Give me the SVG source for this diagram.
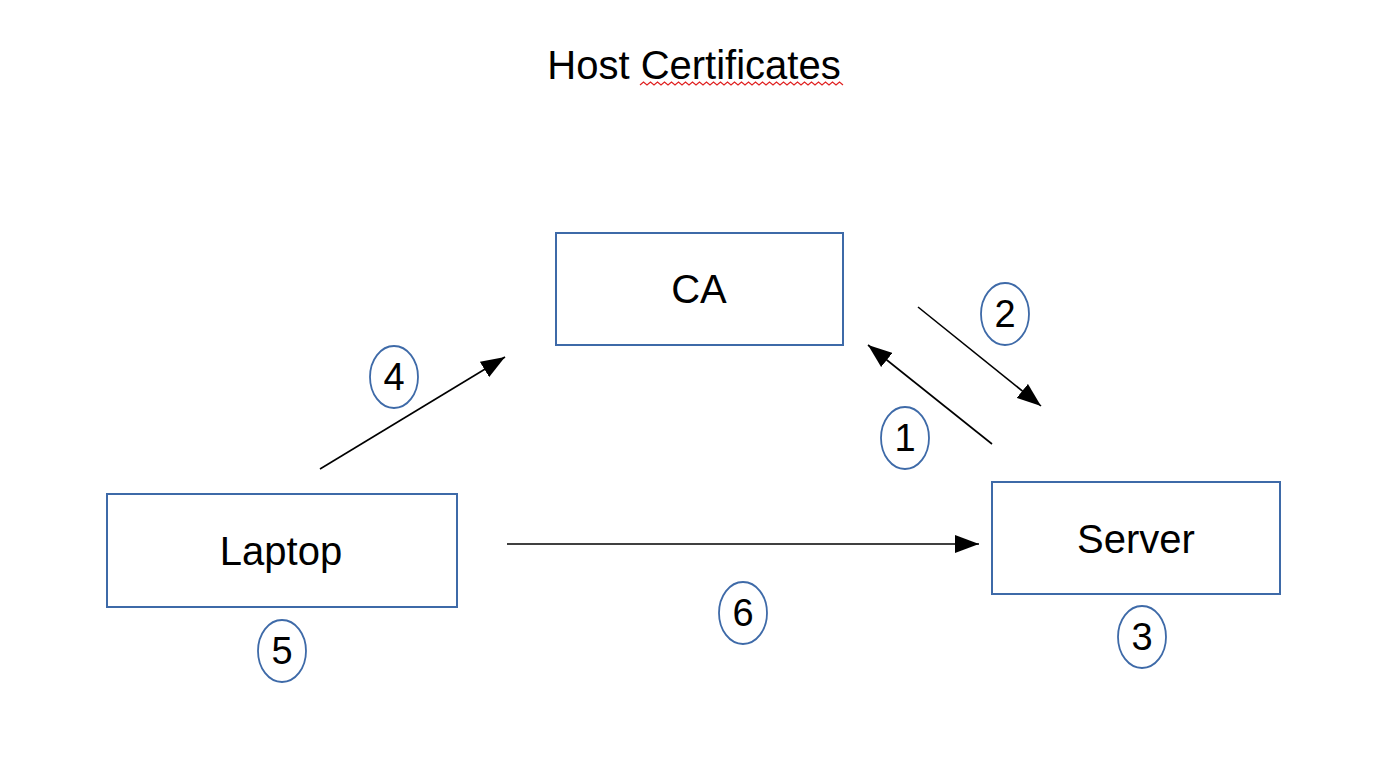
<svg xmlns="http://www.w3.org/2000/svg" width="1388" height="770" viewBox="0 0 1388 770">
<style>
.box{fill:#fff;stroke:#3e6aa8;stroke-width:2}
.num{fill:#fff;stroke:#3e6aa8;stroke-width:1.8}
.t{font-family:"Liberation Sans",Arial,sans-serif;fill:#000;text-anchor:middle}
.lbl{font-size:40px}
.n{font-size:38px}
.c{stroke:#000;stroke-width:1.6;fill:none;marker-end:url(#ah)}
</style>
<defs>
<marker id="ah" viewBox="0 0 24 18" refX="24" refY="9" markerWidth="24" markerHeight="18" markerUnits="userSpaceOnUse" orient="auto">
<path d="M0,0 L24,9 L0,18 Z" fill="#000"/>
</marker>
</defs>
<rect width="1388" height="770" fill="#fff"/>
<g id="title">
<text class="t" x="694" y="79" style="font-size:40px">Host Certificates</text>
<path d="M640,85 l3.5,-3 l3.5,3 l3.5,-3 l3.5,3 l3.5,-3 l3.5,3 l3.5,-3 l3.5,3 l3.5,-3 l3.5,3 l3.5,-3 l3.5,3 l3.5,-3 l3.5,3 l3.5,-3 l3.5,3 l3.5,-3 l3.5,3 l3.5,-3 l3.5,3 l3.5,-3 l3.5,3 l3.5,-3 l3.5,3 l3.5,-3 l3.5,3 l3.5,-3 l3.5,3 l3.5,-3 l3.5,3 l3.5,-3 l3.5,3 l3.5,-3 l3.5,3 l3.5,-3 l3.5,3 l3.5,-3 l3.5,3 l3.5,-3 l3.5,3 l3.5,-3 l3.5,3 l3.5,-3 l3.5,3 l3.5,-3 l3.5,3 l3.5,-3 l3.5,3 l3.5,-3 l3.5,3 l3.5,-3 l3.5,3 l3.5,-3 l3.5,3 l3.5,-3 l3.5,3 l3.5,-3 l3.5,3" fill="none" stroke="#e02020" stroke-width="1.2"/>
</g>
<g id="connectors">
<line class="c" x1="320" y1="469" x2="505" y2="357"/>
<line class="c" x1="992" y1="444" x2="868" y2="345"/>
<line class="c" x1="918" y1="307" x2="1041" y2="406"/>
<line class="c" x1="507" y1="544" x2="979" y2="544"/>
</g>
<g id="ca">
<rect class="box" x="556" y="233" width="287" height="112"/>
<text class="t lbl" x="699" y="303">CA</text>
</g>
<g id="laptop">
<rect class="box" x="107" y="494" width="350" height="113"/>
<text class="t lbl" x="281" y="565">Laptop</text>
</g>
<g id="server">
<rect class="box" x="992" y="482" width="288" height="112"/>
<text class="t lbl" x="1136" y="553">Server</text>
</g>
<g id="n1"><ellipse class="num" cx="905" cy="438" rx="24" ry="31"/><text class="t n" x="905" y="451">1</text></g>
<g id="n2"><ellipse class="num" cx="1005" cy="314" rx="24" ry="31"/><text class="t n" x="1005" y="327">2</text></g>
<g id="n3"><ellipse class="num" cx="1142" cy="637" rx="24" ry="31"/><text class="t n" x="1142" y="650">3</text></g>
<g id="n4"><ellipse class="num" cx="394" cy="377" rx="24" ry="31"/><text class="t n" x="394" y="390">4</text></g>
<g id="n5"><ellipse class="num" cx="282" cy="651" rx="24" ry="31"/><text class="t n" x="282" y="664">5</text></g>
<g id="n6"><ellipse class="num" cx="743" cy="613" rx="24" ry="31"/><text class="t n" x="743" y="626">6</text></g>
</svg>
